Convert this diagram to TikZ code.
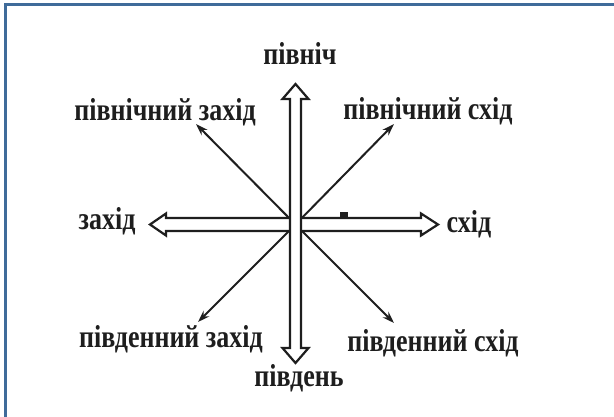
\documentclass[tikz,border=0pt]{standalone}
\usepackage{fontspec}
\setmainfont{Liberation Serif}
\usetikzlibrary{arrows.meta}
\definecolor{frameblue}{HTML}{3F6B9A}
\definecolor{ink}{HTML}{1E1E1E}
\newcommand{\tallt}[1]{\scalebox{1}[1.22]{#1}}
\tikzset{
  lbl/.style={font=\bfseries\fontsize{26}{30}\selectfont, text=ink, anchor=base, inner sep=0pt},
  dblarrow/.style={draw=ink, line width=2.2pt, fill=white, line join=miter},
  diag/.style={draw=ink, line width=2pt, -{Stealth[length=12pt,width=8pt]}}
}
\begin{document}
\begin{tikzpicture}[x=1pt,y=-1pt]
\useasboundingbox (0,0) rectangle (614,417);
\fill[white] (0,0) rectangle (614,417);
% frame (left and top only)
\draw[frameblue, line width=3pt] (5,417) -- (5,5) -- (614,5);
% centre and ends
\coordinate (c) at (295.5,224.5);
\coordinate (nw) at (196,124);
\coordinate (ne) at (394,124);
\coordinate (sw) at (198,322);
\coordinate (se) at (394,323);
% diagonals
\draw[diag] (c) -- (nw);
\draw[diag] (c) -- (ne);
\draw[diag] (c) -- (sw);
\draw[diag] (c) -- (se);
% horizontal double arrow
\draw[dblarrow] (166,218) -- (166,213.5) -- (150,224.5) -- (166,235.5) -- (166,231)
  -- (421,231) -- (421,235.5) -- (438,224.5) -- (421,213.5) -- (421,218) -- cycle;
% vertical double arrow
\draw[dblarrow] (290,99) -- (282.5,99) -- (295.5,84) -- (308.5,99) -- (301,99)
  -- (301,348) -- (308.5,348) -- (295.5,363) -- (282.5,348) -- (290,348) -- cycle;
% small mark
\fill[ink] (340,212) rectangle (348,219.5);
% labels
\node[lbl] (n)  at (300,65)  {\tallt{північ}};
\node[lbl] (nwl) at (165,121) {\tallt{північний захід}};
\node[lbl] (nel) at (428,120) {\tallt{північний схід}};
\node[lbl] (w)  at (107,230) {\tallt{захід}};
\node[lbl] (e)  at (469,233) {\tallt{схід}};
\node[lbl] (swl) at (171,348) {\tallt{південний захід}};
\node[lbl] (sel) at (433,351) {\tallt{південний схід}};
\node[lbl] (s)  at (299,386) {\tallt{південь}};
\end{tikzpicture}
\end{document}
